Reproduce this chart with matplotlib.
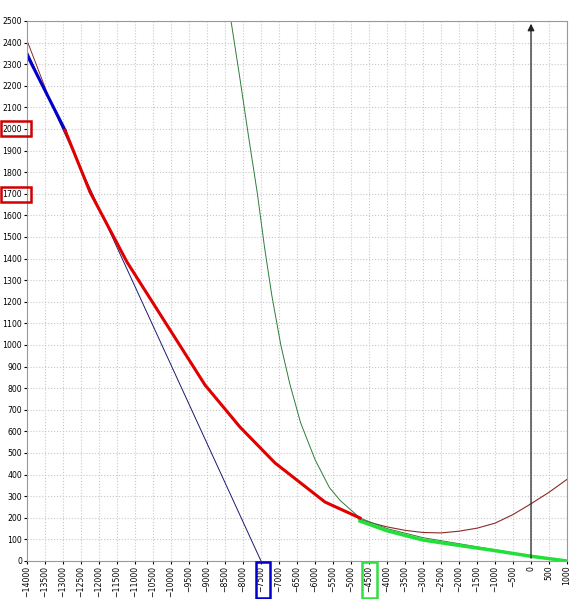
import matplotlib.pyplot as plt
from matplotlib.patches import Rectangle

# data
red_x = [-12944, -12250, -11222, -9056, -8083, -7111, -5722, -4750]
red_y = [1995, 1708, 1384, 815, 620, 454, 273, 199]
blue_x = [-14000, -12944]
blue_y = [2343, 1995]
navy_x = [-14000, -7500]
navy_y = [2360, 0]
brown_top_x = [-14000, -13400]
brown_top_y = [2410, 2150]
brown_x = [-4800, -4400, -4000, -3500, -3000, -2500, -2000, -1500, -1000, -500, 0, 500, 1000]
brown_y = [195, 175, 158, 142, 132, 130, 138, 152, 175, 215, 265, 318, 378]
gthin_x = [-8333, -8100, -7850, -7600, -7400, -7200, -6950, -6700, -6400, -6000, -5600, -5300,
           -4750, -4000, -3000, -2000, -1000, 0, 1000]
gthin_y = [2500, 2250, 1970, 1700, 1450, 1230, 1000, 820, 640, 470, 340, 280,
           199, 150, 108, 80, 52, 24, 0]
gthick_x = [-4750, -4000, -3000, -2000, -1000, 0, 1000]
gthick_y = [185, 140, 97, 72, 48, 22, 0]

fig = plt.figure(figsize=(5.82, 5.99), dpi=100)
ax = fig.add_axes([27 / 582, 38 / 599, 540 / 582, 540 / 599])
ax.set_xlim(-14000, 1000)
ax.set_ylim(0, 2500)
ax.set_xticks(range(-14000, 1001, 500))
ax.set_yticks(range(0, 2501, 100))
ax.tick_params(labelsize=5.6, length=2, pad=1.5)
plt.setp(ax.get_xticklabels(), rotation=90)
ax.grid(True, linestyle=":", color="#c8c8c8", linewidth=0.8)
for s in ax.spines.values():
    s.set_color("#999999")

ax.plot(navy_x, navy_y, color="#1a1a6e", lw=0.7)
ax.plot(brown_top_x, brown_top_y, color="#8b2a2a", lw=0.7)
ax.plot(brown_x, brown_y, color="#8b2a2a", lw=0.8)
ax.plot(gthin_x, gthin_y, color="#2e7d3a", lw=0.7)
ax.plot(gthick_x, gthick_y, color="#22e03a", lw=2.5)
ax.plot(blue_x, blue_y, color="#0000cc", lw=2.2)
ax.plot(red_x, red_y, color="#e00000", lw=2.2)
ax.annotate("", xy=(0, 2500), xytext=(0, 0),
            arrowprops=dict(arrowstyle="-|>", color="#222", lw=0.9))

# highlight boxes around tick labels (figure pixel coords)
for (x0, y0, w, h, c) in [(1, 121, 30, 15, "#d00000"), (1, 187, 30, 15, "#d00000"),
                          (256, 562, 14, 36, "#0000cc"), (362, 562, 15, 36, "#33dd44")]:
    fig.patches.append(Rectangle((x0 / 582, 1 - (y0 + h) / 599), w / 582, h / 599,
                                 transform=fig.transFigure, fill=False,
                                 edgecolor=c, lw=1.8))

fig.savefig("out.png", dpi=100)
